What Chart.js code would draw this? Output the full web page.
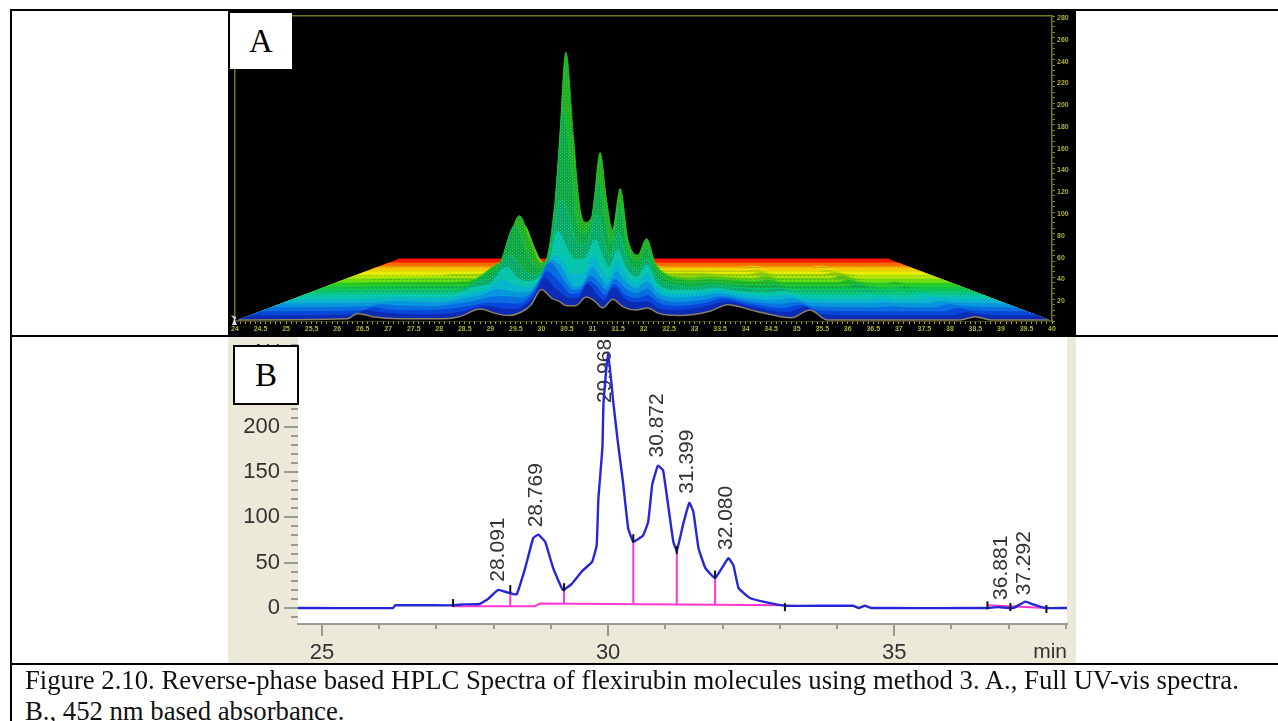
<!DOCTYPE html>
<html lang="en">

<head>
    <meta charset="UTF-8">
    <title>Figure 2.10</title>
    <script src="https://cdn.jsdelivr.net/npm/chart.js"></script>
    <style>
        html, body { margin: 0; padding: 0; background: #fff; overflow: hidden; }
        body { position: relative; width: 1278px; height: 721px; }
        canvas { position: absolute; display: block; filter: blur(0.45px); }
        #graficoA { left: 228px; top: 9px; }
        #graficoB { left: 228px; top: 336px; }
        .linha { position: absolute; background: #000; }
        .caixa { position: absolute; background: #fff; text-align: center; box-sizing: border-box;
                 font-family: "Liberation Serif", serif; font-size: 33px; color: #000; }
        .legenda { position: absolute; left: 25px; font-family: "Liberation Serif", serif; font-size: 26.7px;
                   line-height: 31px; white-space: nowrap; color: #111; }
    </style>
</head>

<body>
    <canvas id="graficoA" width="848" height="326"></canvas>
    <canvas id="graficoB" width="848" height="327"></canvas>

    <div class="linha" style="left:10px;top:9px;width:1268px;height:2px"></div>
    <div class="linha" style="left:10px;top:9px;width:2px;height:712px"></div>
    <div class="linha" style="left:10px;top:335px;width:1268px;height:2px"></div>
    <div class="linha" style="left:10px;top:663px;width:1268px;height:2px"></div>

    <div class="caixa" style="left:230px;top:13px;width:62px;height:56px;line-height:56px">A</div>
    <div class="caixa" style="left:233px;top:345px;width:66px;height:60px;line-height:56px;border:2px solid #000">B</div>

    <div class="legenda" style="top:665px">Figure 2.10. Reverse-phase based HPLC Spectra of flexirubin molecules using method 3. A., Full UV-vis spectra.</div>
    <div class="legenda" style="top:696px">B., 452 nm based absorbance.</div>

<script>
    // ---- A: full UV-vis surface, one row per wavelength (front to back)
    var temposA = [24, 26.2, 26.4, 26.7, 27.5, 28.1, 28.4, 28.8, 29.1, 29.35, 29.6, 29.8, 30, 30.2, 30.35, 30.5, 30.67, 30.88, 31.05, 31.2, 31.4, 31.6, 31.85, 32.08, 32.3, 32.7, 33.3, 33.65, 34.2, 34.9, 35.26, 35.6, 37, 37.3, 37.6, 38.2, 38.5, 38.8, 40];
    var comprimentos = [200, 230, 260, 290, 320, 350, 380, 410, 440, 470, 500, 530, 560, 590, 620, 650];

    var banda200 = [0,1,6,3,1, 1,3,10,6,4, 7,14,28,20,17, 13,13,21,17,11, 19,12,9,11,6, 4,8,14,8,2, 9,0,0,0,0, 0,3,0,0];
    var banda230 = [0,1,5,3,1, 2,4,9,7,6, 9,18,35,26,20, 16,16,29,20,14, 26,16,12,13,7, 5,9,13,8,3, 8,1,0,0,0, 0,3,1,0];
    var banda260 = [0,1,4,2,1, 3,5,8,8,7, 11,22,37,30,22, 16,17,28,22,15, 25,16,12,15,8, 5,8,12,7,3, 6,1,0,0,0, 0,3,1,0];
    var banda290 = [0,1,3,2,1, 4,6,10,10,9, 13,26,42,32,22, 16,18,29,23,16, 26,18,13,17,9, 5,7,10,6,3, 5,1,0,1,0, 0,3,1,0];
    var banda320 = [0,1,2,2,1, 5,7,13,11,10, 14,28,40,33,22, 15,18,33,24,17, 29,20,14,20,10, 5,7,9,5,3, 5,1,0,1,0, 0,2,1,0];
    var banda350 = [0,1,2,1,1, 6,8,18,13,11, 15,28,41,34,24, 23,25,39,28,20, 35,22,15,24,11, 5,6,8,5,3, 4,1,0,1,0, 0,2,1,0];
    var banda380 = [0,1,1,1,1, 8,10,26,15,13, 18,30,59,45,35, 33,36,51,36,26, 42,25,17,28,12, 5,5,7,4,2, 4,1,0,1,0, 0,2,0,0];
    var banda410 = [0,1,1,1,1, 10,14,33,20,15, 22,45,84,70,48, 42,47,70,47,32, 54,30,20,30,14, 6,4,6,4,2, 3,1,1,2,1, 0,1,0,0];
    var banda440 = [0,1,1,1,1, 13,20,57,32,18, 28,80,163,110,60, 50,57,98,62,40, 75,36,24,36,17, 6,4,5,3,2, 3,1,1,3,1, 0,1,0,0];
    var banda470 = [0,1,1,1,2, 15,24,62,37,19, 32,107,212,132,72, 56,61,120,76,49, 87,40,26,41,19, 6,3,4,3,2, 3,1,1,3,1, 0,1,0,0];
    var banda500 = [0,1,1,1,1, 13,20,50,28,12, 22,70,140,90,50, 38,42,92,55,34, 66,30,20,31,14, 4,2,3,2,1, 3,1,1,4,1, 0,0,0,0];
    var banda530 = [0,0,0,1,1, 7,12,32,16,7, 12,35,74,48,26, 20,22,50,30,18, 37,16,10,17,7, 2,2,2,1,1, 3,1,1,3,1, 0,0,0,0];
    var banda560 = [0,0,0,0,0, 3,5,14,7,3, 5,14,28,18,10, 8,9,20,12,7, 14,6,4,6,3, 1,1,1,1,1, 2,0,0,2,0, 0,0,0,0];
    var banda590 = [0,0,0,0,0, 1,1,4,2,1, 1,4,8,5,3, 2,2,5,3,2, 3,2,1,1,1, 0,0,0,0,0, 1,0,0,1,0, 0,0,0,0];
    var banda620 = [0,0,0,0,0, 0,0,1,0,0, 0,1,2,1,1, 0,0,1,1,0, 1,0,0,0,0, 0,0,0,0,0, 0,0,0,0,0, 0,0,0,0];
    var banda650 = [0,0,0,0,0, 0,0,0,0,0, 0,0,0,0,0, 0,0,0,0,0, 0,0,0,0,0, 0,0,0,0,0, 0,0,0,0,0, 0,0,0,0];
    var bandas = [banda200, banda230, banda260, banda290, banda320, banda350, banda380, banda410, banda440, banda470, banda500, banda530, banda560, banda590, banda620, banda650];

    var ticksYA = [20, 40, 60, 80, 100, 120, 140, 160, 180, 200, 220, 240, 260, 280];

    var coresBandas = ['#000000', '#0c2cb8', '#0848dc', '#0870e4', '#0898e0', '#08b8d0', '#08c8b0', '#08c880', '#10c850', '#28d028', '#70e010', '#b8e800', '#f0f000', '#ffc800', '#ff7000', '#ff1800'];

    // ---- B: absorbance at 452 nm
    var temposB = [24.58, 26.24, 26.28, 27.27, 27.47, 27.76, 27.9, 28.08, 28.25, 28.4, 28.55, 28.69, 28.78, 28.9, 29.04, 29.21, 29.37, 29.55, 29.72, 29.8, 29.83, 29.9, 29.92, 30, 30.09, 30.17, 30.26, 30.35, 30.44, 30.61, 30.7, 30.77, 30.8, 30.87, 30.96, 31.05, 31.14, 31.2, 31.31, 31.42, 31.49, 31.58, 31.7, 31.87, 32.1, 32.19, 32.28, 32.48, 32.71, 33.1, 34.28, 34.38, 34.49, 34.6, 36.6, 36.82, 37.08, 37.29, 37.43, 37.64, 38.02];
    var valoresB = [0, 0, 3, 3, 4, 4.5, 10, 20, 17, 15, 44, 77, 81, 73, 44, 20, 27, 41, 51, 69, 121, 176, 227, 282, 227, 183, 139, 88, 73, 80, 95, 136, 143, 157, 152, 113, 73, 63, 92, 116, 106, 66, 44, 33, 55, 47, 22, 11, 7, 2.5, 2.5, 0, 2.5, 0, 0, 1, 0, 7, 4, 0, 0];

    var picos = ['28.091', '28.769', '29.968', '30.872', '31.399', '32.080', '36.881', '37.292'];
    var alturasRotulos = [29, 89, 226, 166, 126, 64, 9, 14];

    var linhaBaseTempos = [27.29, 28.72, 28.81, 33.09, null, 36.63, 37.66];
    var linhaBaseValores = [2, 2, 5, 3, null, 3, 0];

    var quedaTempos = [28.29, 29.23, 30.44, 31.2, 31.87];
    var quedaBases = [2, 5, 5, 4, 4];
    var quedaTopos = [17, 21, 73, 64, 33];

    var marcaTempos = [27.29, 28.29, 29.23, 30.44, 31.2, 31.87, 33.09, 36.63, 37.03, 37.66];
    var marcaValores = [5.5, 21, 23, 77, 64, 37, 1, 3, 1, -1];

    var ticksYB = [0, 50, 100, 150, 200, 250];
    var ticksYBMenores = [-10, 0, 10, 20, 30, 40, 50, 60, 70, 80, 90, 100, 110, 120, 130, 140, 150, 160, 170, 180, 190, 200, 210, 220, 230, 240, 250, 260, 270, 280, 290];
    var ticksXB = [25, 30, 35];
    var ticksXBMenores = [25, 26, 27, 28, 29, 30, 31, 32, 33, 34, 35, 36, 37, 38];

    Chart.defaults.font.family = '"Liberation Sans", Arial, sans-serif';
    Chart.defaults.animation = false;
    Chart.defaults.responsive = false;
    Chart.defaults.plugins.legend.display = false;
    Chart.defaults.plugins.tooltip.enabled = false;

    var centro = 32;       // vanishing column of the surface (min)
    var chaoTras = 56;     // how high the back edge sits on the y scale
    var recuo = 0.4;       // how much narrower the back edge is

    function profundidade(nm) {
        return (nm - comprimentos[0]) / (comprimentos[comprimentos.length - 1] - comprimentos[0]);
    }

    // wire mesh texture: faint on the floor, darker with light dots above the row's own floor.
    // the front rows stay clean, the mesh only shows on the green part of the peaks
    function malha(cor, yChao, comMalha) {
        var altura = 326;
        var c = document.createElement('canvas');
        c.width = 4;
        c.height = altura;
        var g = c.getContext('2d');
        g.fillStyle = cor;
        g.fillRect(0, 0, 4, altura);
        for (let y = 0; y < altura; y++) {
            var px = y % 3 == 0 ? 0 : 2;
            if (y < yChao && comMalha) {
                g.fillStyle = 'rgba(0,35,15,0.2)';
                g.fillRect(0, y, 4, 1);
                if (y % 3 != 1) {
                    g.fillStyle = 'rgba(170,255,170,0.3)';
                    g.fillRect(px, y, 1, 1);
                }
            } else if (y % 3 != 1) {
                g.fillStyle = 'rgba(0,30,10,0.1)';
                g.fillRect(px, y, 1, 1);
            }
        }
        return g.createPattern(c, 'repeat');
    }

    function montarBandas() {
        var lista = [];
        for (let i = 0; i < bandas.length; i++) {
            var d = profundidade(comprimentos[i]);
            var escala = 1 - recuo * d;
            var chao = 1 + chaoTras * d;
            var pontos = temposA.map((t, j) => ({ x: centro + (t - centro) * escala, y: chao + bandas[i][j] }));
            if (i > 0) {
                // carry the row out to the full width, the trapezoid clip trims it
                pontos.unshift({ x: 24, y: chao });
                pontos.push({ x: 40, y: chao });
            }
            lista.push({
                data: pontos,
                order: i,
                fill: 'origin',
                backgroundColor: i == 0 ? '#000' : malha(coresBandas[i], 312 - chao * 305 / 280, i >= 7),
                borderColor: i == 0 ? '#8a7f68' : coresBandas[i],
                borderWidth: i == 0 ? 1.5 : 0.8,
                pointRadius: 0,
                cubicInterpolationMode: 'monotone'
            });
        }
        return lista;
    }

    // keeps the floor inside its trapezoid
    var recorteA = {
        id: 'recorteA',
        beforeDatasetsDraw(chart) {
            var x = chart.scales.x, y = chart.scales.y, ctx = chart.ctx;
            var tras = 1 - recuo;
            var yChao = y.getPixelForValue(chaoTras + 1);
            ctx.save();
            ctx.beginPath();
            ctx.moveTo(x.getPixelForValue(24), y.getPixelForValue(0));
            ctx.lineTo(x.getPixelForValue(centro - 8 * tras), yChao);
            ctx.lineTo(x.getPixelForValue(centro - 8 * tras), chart.chartArea.top);
            ctx.lineTo(x.getPixelForValue(centro + 8 * tras), chart.chartArea.top);
            ctx.lineTo(x.getPixelForValue(centro + 8 * tras), yChao);
            ctx.lineTo(x.getPixelForValue(40), y.getPixelForValue(0));
            ctx.closePath();
            ctx.clip();
        },
        afterDatasetsDraw(chart) {
            var ctx = chart.ctx;
            ctx.restore();
            // corner marker of the original viewer
            var px = chart.scales.x.getPixelForValue(24), py = chart.scales.y.getPixelForValue(0);
            ctx.fillStyle = '#d8d8f0';
            ctx.beginPath();
            ctx.moveTo(px - 4, py - 6);
            ctx.lineTo(px + 1, py - 4);
            ctx.lineTo(px, py);
            ctx.lineTo(px + 2, py + 4);
            ctx.lineTo(px - 3, py + 4);
            ctx.lineTo(px - 1, py - 2);
            ctx.closePath();
            ctx.fill();
        }
    };

    var corEixo = '#77771a';
    var fundoPretoA = {
        id: 'fundoPretoA',
        beforeDraw(chart) {
            chart.ctx.fillStyle = '#000';
            chart.ctx.fillRect(0, 0, chart.width, chart.height);
        }
    };

    function listaDe(inicio, fim, passo) {
        var l = [];
        for (let i = 0; inicio + i * passo <= fim + 1e-9; i++) l.push({ value: +(inicio + i * passo).toFixed(2) });
        return l;
    }

    function semMargem(s) {
        s.paddingTop = 0;
        s.paddingBottom = 0;
        s.paddingLeft = 0;
        s.paddingRight = 0;
    }

    new Chart(document.getElementById('graficoA'), {
        type: 'line',
        data: { datasets: montarBandas() },
        plugins: [fundoPretoA, recorteA],
        options: {
            layout: { autoPadding: false, padding: { left: 7, top: 7 } },
            scales: {
                x: {
                    type: 'linear', min: 24, max: 40,
                    afterBuildTicks: s => { s.ticks = listaDe(24, 40, 0.1); },
                    afterFit: s => { s.height = 14; semMargem(s); },
                    border: { color: corEixo, width: 1.5 },
                    grid: { drawOnChartArea: false, color: corEixo, tickLength: 3, tickColor: '#a8a828' },
                    ticks: {
                        autoSkip: false, maxRotation: 0, padding: 1, color: '#b0b038',
                        font: { size: 7, weight: 'bold' },
                        callback: v => Math.abs(v * 2 - Math.round(v * 2)) < 1e-6 ? String(v) : ''
                    }
                },
                y: {
                    position: 'right', min: 0, max: 280,
                    afterBuildTicks: s => { s.ticks = listaDe(0, 280, 5); },
                    afterFit: s => { s.width = 24; semMargem(s); },
                    border: { color: corEixo, width: 1.5 },
                    grid: { drawOnChartArea: false, color: corEixo, tickLength: 3, tickColor: '#8c8c20' },
                    ticks: {
                        autoSkip: false, padding: 2, labelOffset: 2, color: '#b0b038',
                        font: { size: 7, weight: 'bold' },
                        callback: v => ticksYA.includes(v) ? String(v) : ''
                    }
                },
                xTopo: {
                    axis: 'x', type: 'linear', position: 'top', min: 24, max: 40,
                    afterFit: s => { s.height = 0; semMargem(s); },
                    border: { color: corEixo, width: 1.5 }, grid: { display: false }, ticks: { display: false }
                },
                yEsq: {
                    axis: 'y', type: 'linear', position: 'left', min: 0, max: 280,
                    afterFit: s => { s.width = 0; semMargem(s); },
                    border: { color: corEixo, width: 1.5 }, grid: { display: false }, ticks: { display: false }
                }
            }
        }
    });

    // ---- chart B
    var textoB = {
        id: 'textoB',
        beforeDraw(chart) {
            var ctx = chart.ctx, a = chart.chartArea;
            ctx.fillStyle = '#ece9d8';
            ctx.fillRect(0, 0, chart.width, chart.height);
            ctx.fillStyle = '#fff';
            ctx.fillRect(a.left, a.top, a.right - a.left, a.bottom - a.top);
        },
        beforeDatasetsDraw(chart) {
            var ctx = chart.ctx, x = chart.scales.x, y = chart.scales.y;
            ctx.save();
            ctx.fillStyle = '#333';
            ctx.font = '21px "Liberation Sans", Arial, sans-serif';
            ctx.textAlign = 'left';
            ctx.textBaseline = 'middle';
            for (let i = 0; i < picos.length; i++) {
                ctx.save();
                ctx.translate(x.getPixelForValue(parseFloat(picos[i])) - 1, y.getPixelForValue(alturasRotulos[i]));
                ctx.rotate(-Math.PI / 2);
                ctx.fillText(picos[i], 0, 0);
                ctx.restore();
            }
            ctx.restore();
        },
        afterDraw(chart) {
            var ctx = chart.ctx, a = chart.chartArea;
            ctx.save();
            ctx.fillStyle = '#333';
            ctx.font = '21px "Liberation Sans", Arial, sans-serif';
            ctx.textBaseline = 'alphabetic';
            ctx.textAlign = 'right';
            ctx.fillText('min', a.right, a.bottom + 34);
            ctx.textAlign = 'center';
            ctx.fillText('mAU', 29, 22);
            ctx.restore();
        }
    };

    var cinza = '#9a9a92';
    var magenta = '#ff38d0';

    var quedas = [];
    quedaTempos.forEach((t, i) => {
        quedas.push({ x: t, y: quedaBases[i] }, { x: t, y: quedaTopos[i] }, { x: null, y: null });
    });

    new Chart(document.getElementById('graficoB'), {
        type: 'line',
        data: {
            datasets: [
                {
                    data: marcaTempos.map((t, i) => ({ x: t, y: marcaValores[i] })),
                    showLine: false, pointStyle: 'line', pointRotation: 90, pointRadius: 4,
                    pointBorderColor: '#111', pointBorderWidth: 2, order: 0
                },
                {
                    data: temposB.map((t, i) => ({ x: t, y: valoresB[i] })),
                    borderColor: '#2626d8', borderWidth: 2.4, pointRadius: 0, tension: 0.1, order: 1
                },
                {
                    data: linhaBaseTempos.map((t, i) => ({ x: t, y: linhaBaseValores[i] })),
                    borderColor: magenta, borderWidth: 2, pointRadius: 0, order: 2
                },
                {
                    data: quedas,
                    borderColor: magenta, borderWidth: 2, pointRadius: 0, order: 3
                }
            ]
        },
        plugins: [textoB],
        options: {
            layout: { autoPadding: false, padding: { right: 9 } },
            scales: {
                x: {
                    type: 'linear', min: 24.58, max: 38.02, weight: 1,
                    afterBuildTicks: s => { s.ticks = ticksXB.map(v => ({ value: v })); },
                    afterFit: s => { s.height = 39; semMargem(s); },
                    border: { color: cinza, width: 2 },
                    grid: { drawOnChartArea: false, color: cinza, lineWidth: 2, tickLength: 12 },
                    ticks: {
                        autoSkip: false, maxRotation: 0, padding: 4, color: '#333',
                        font: { size: 22 }, callback: v => String(v)
                    }
                },
                xMenor: {
                    axis: 'x', type: 'linear', position: 'bottom', min: 24.58, max: 38.02, weight: 0,
                    afterBuildTicks: s => { s.ticks = ticksXBMenores.map(v => ({ value: v })); },
                    afterFit: s => { s.height = 0; semMargem(s); },
                    border: { display: false },
                    grid: { drawOnChartArea: false, color: cinza, lineWidth: 2, tickLength: 5 },
                    ticks: { display: false }
                },
                y: {
                    type: 'linear', min: -17.6, max: 300, weight: 1,
                    afterBuildTicks: s => { s.ticks = ticksYB.map(v => ({ value: v })); },
                    afterFit: s => { s.width = 70; semMargem(s); },
                    border: { display: false },
                    grid: { drawOnChartArea: false, color: cinza, lineWidth: 2, tickLength: 14 },
                    ticks: { autoSkip: false, padding: 4, color: '#333', font: { size: 22 }, callback: v => String(v) }
                },
                yMenor: {
                    axis: 'y', type: 'linear', position: 'left', min: -17.6, max: 300, weight: 0,
                    afterBuildTicks: s => { s.ticks = ticksYBMenores.map(v => ({ value: v })); },
                    afterFit: s => { s.width = 0; semMargem(s); },
                    border: { display: false },
                    grid: { drawOnChartArea: false, color: cinza, lineWidth: 2, tickLength: 7 },
                    ticks: { display: false }
                }
            }
        }
    });
</script>
</body>

</html>
